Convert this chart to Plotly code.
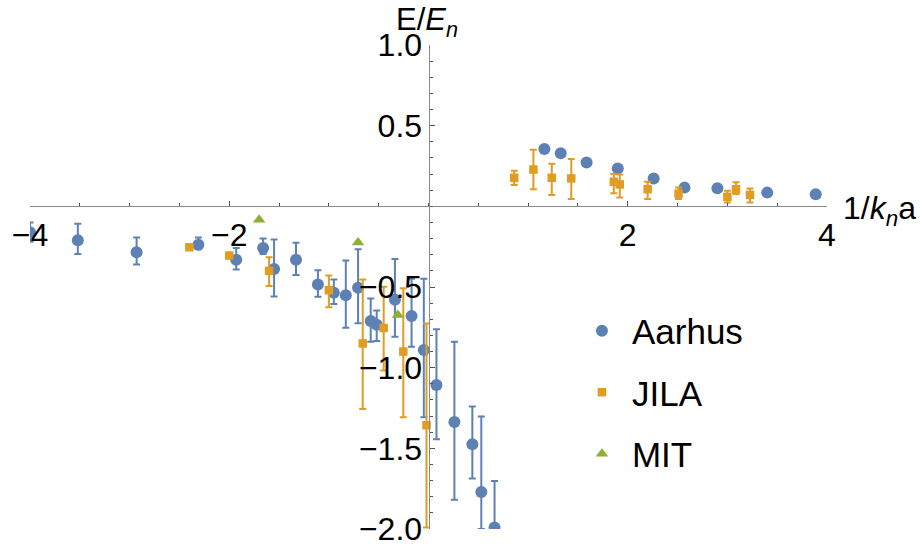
import plotly.graph_objects as go

# ---- Aarhus data (x = 1/k_n a, y = E/E_n), with error-bar ends ----
aarhus_x = [-4.00, -3.52, -2.93, -2.31, -1.93, -1.66, -1.55, -1.33, -1.11, -0.95,
            -0.83, -0.707, -0.58, -0.52, -0.337, -0.17, -0.047, 0.08, 0.26, 0.44,
            0.53, 0.663,
            1.163, 1.327, 1.587, 1.90, 2.26, 2.57, 2.90, 3.40, 3.887]
aarhus_y = [-0.16, -0.21, -0.285, -0.238, -0.331, -0.258, -0.388, -0.331, -0.484, -0.535,
            -0.551, -0.504, -0.711, -0.734, -0.579, -0.68, -0.89, -1.108, -1.337, -1.474,
            -1.77, -1.99,
            0.356, 0.329, 0.272, 0.234, 0.173, 0.116, 0.112, 0.085, 0.075]
aarhus_hi = [-0.10, -0.108, -0.193, -0.193, -0.258, -0.20, -0.205, -0.226, -0.396, -0.453,
             -0.335, -0.266, -0.571, -0.646, -0.327, -0.449, -0.449, -0.762, -0.84, -1.24,
             -1.303, -1.703,
             0.356, 0.329, 0.272, 0.234, 0.173, 0.116, 0.112, 0.085, 0.075]
aarhus_lo = [-0.22, -0.295, -0.36, -0.266, -0.392, -0.295, -0.559, -0.425, -0.561, -0.606,
             -0.752, -0.724, -0.84, -0.834, -0.809, -0.87, -1.307, -1.443, -1.819, -1.687,
             -2.0, -2.0,
             0.356, 0.329, 0.272, 0.234, 0.173, 0.116, 0.112, 0.085, 0.075]

# ---- JILA data ----
jila_x = [-2.40, -2.00, -1.60, -1.00, -0.66, -0.45, -0.253, -0.02,
          0.86, 1.053, 1.237, 1.433, 1.86, 1.92, 2.20, 2.51, 3.00, 3.087, 3.227]
jila_y = [-0.254, -0.305, -0.40, -0.52, -0.85, -0.754, -0.90, -1.357,
          0.177, 0.228, 0.177, 0.173, 0.152, 0.136, 0.106, 0.079, 0.059, 0.106, 0.071]
jila_hi = [-0.254, -0.305, -0.315, -0.429, -0.453, -0.498, -0.508, -0.727,
           0.221, 0.35, 0.264, 0.293, 0.201, 0.197, 0.152, 0.116, 0.096, 0.15, 0.11]
jila_lo = [-0.254, -0.305, -0.494, -0.626, -1.256, -1.018, -1.307, -1.99,
           0.132, 0.106, 0.071, 0.045, 0.081, 0.055, 0.045, 0.045, 0.024, 0.076, 0.024]

# ---- MIT data ----
mit_x = [-1.70, -0.707, -0.307]
mit_y = [-0.083, -0.224, -0.673]

# ---- axis ticks ----
x_ticks = [-4, -2, 2, 4]
x_tick_text = ["\u22124", "\u22122", "2", "4"]
y_ticks = [1.0, 0.5, -0.5, -1.0, -1.5, -2.0]
y_tick_text = ["1.0", "0.5", "\u22120.5", "\u22121.0", "\u22121.5", "\u22122.0"]

BLUE = "#5E81B5"
ORANGE = "#E19C24"
GREEN = "#8FB032"
FONT = "Liberation Sans, Arial, sans-serif"


def err(y, hi, lo):
    return dict(type="data", symmetric=False,
                array=[h - v for v, h in zip(y, hi)],
                arrayminus=[v - l for v, l in zip(y, lo)],
                thickness=2, width=3.5)


fig = go.Figure()
fig.add_trace(go.Scatter(
    x=aarhus_x, y=aarhus_y, mode="markers", name="Aarhus",
    legendgroup="a",
    marker=dict(symbol="circle", size=12, color=BLUE),
    error_y=dict(err(aarhus_y, aarhus_hi, aarhus_lo), color=BLUE),
))
fig.add_trace(go.Scatter(
    x=jila_x, y=jila_y, mode="markers", name="JILA",
    legendgroup="j",
    marker=dict(symbol="square", size=8.5, color=ORANGE),
    error_y=dict(err(jila_y, jila_hi, jila_lo), color=ORANGE),
))
fig.add_trace(go.Scatter(
    x=mit_x, y=mit_y, mode="markers", name="MIT",
    legendgroup="m",
    marker=dict(symbol="triangle-up", size=11, color=GREEN),
))

axis_common = dict(
    showgrid=False, zeroline=False, showline=True,
    linecolor="#8a8a8a", linewidth=1,
    ticks="inside", tickcolor="#555555", tickwidth=1, ticklen=5,
    tickfont=dict(family=FONT, size=32, color="black"),
    anchor="free",
)

fig.update_layout(
    width=920, height=559,
    margin=dict(l=27, r=93, t=45, b=20),
    paper_bgcolor="white", plot_bgcolor="white",
    font=dict(family=FONT, color="black"),
    xaxis=dict(axis_common, range=[-4, 4], position=2 / 3,
               tickmode="array", tickvals=x_ticks, ticktext=x_tick_text,
               minor=dict(dtick=0.5, tick0=0, ticks="inside", ticklen=3,
                          tickcolor="#555555")),
    yaxis=dict(axis_common, range=[-2, 1], position=0.5,
               tickmode="array", tickvals=y_ticks, ticktext=y_tick_text,
               minor=dict(dtick=0.1, tick0=0, ticks="inside", ticklen=3,
                          tickcolor="#555555")),
    showlegend=True,
    legend=dict(x=0.68, y=0.47, xanchor="left", yanchor="top",
                font=dict(family=FONT, size=35, color="black"),
                itemwidth=50, tracegroupgap=13, traceorder="grouped",
                bgcolor="rgba(0,0,0,0)"),
    annotations=[
        dict(text="E/<i>E</i><sub><i>n</i></sub>", xref="x", yref="paper",
             x=-0.35, y=1.0, xanchor="left", yanchor="bottom", yshift=1,
             showarrow=False,
             font=dict(family=FONT, size=31, color="black")),
        dict(text="1/<i>k</i><sub><i>n</i></sub>a", xref="paper", yref="paper",
             x=1.018, y=2 / 3, xanchor="left", yanchor="middle", yshift=-4,
             showarrow=False,
             font=dict(family=FONT, size=32, color="black")),
    ],
)

fig.write_html("out.html")
